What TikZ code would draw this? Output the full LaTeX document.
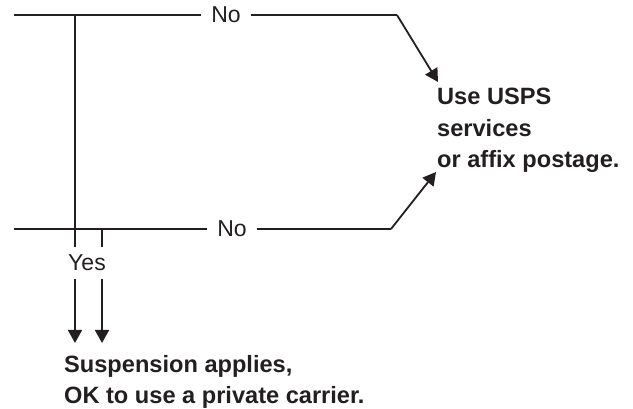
\documentclass[tikz,border=0pt]{standalone}
\usepackage{fontspec}
\setmainfont{Liberation Sans}
\usetikzlibrary{arrows.meta}
\definecolor{ink}{RGB}{35,31,32}
\tikzset{
  wire/.style={draw=ink, line width=1.8pt},
  arr/.style={wire, -{Triangle[width=14pt,length=13pt]}},
  lbl/.style={font=\fontsize{23}{28}\selectfont, text=ink, inner xsep=10pt, inner ysep=0pt},
  res/.style={font=\bfseries\fontsize{23.6}{31.5}\selectfont, text=ink, align=left, inner sep=0pt, anchor=north west}
}
\begin{document}
\begin{tikzpicture}[x=1pt,y=-1pt]
\useasboundingbox (0,0) rectangle (633,409);
% result nodes
\node[res] (use) at (437,88) {Use USPS\\services\\or affix postage.};
\node[res] (sus) at (64,355) {Suspension applies,\\OK to use a private carrier.};
% labels
\node[lbl] (noA) at (226,15) {No};
\node[lbl] (noB) at (232,229) {No};
\node[lbl, inner xsep=0pt, minimum height=31pt] (yes) at (87,263) {Yes};
% coordinates
\coordinate (tl) at (14,15);
\coordinate (tr) at (397,15);
\coordinate (tipA) at (438,82);
\coordinate (bl) at (14,229);
\coordinate (br) at (391,229);
\coordinate (tipB) at (436,172);
\coordinate (jA) at (75,15);
\coordinate (jB) at (102,229);
\coordinate (endA) at (75,343);
\coordinate (endB) at (102,343);
% top branch
\draw[wire] (tl) -- (noA.west);
\draw[wire] (noA.east) -- (tr);
\draw[arr] (tr) -- (tipA);
% bottom branch
\draw[wire] (bl) -- (noB.west);
\draw[wire] (noB.east) -- (br);
\draw[arr] (br) -- (tipB);
% yes branches
\draw[wire] (jA) -- (jA |- yes.north);
\draw[wire] (jB) -- (jB |- yes.north);
\draw[arr] (jA |- yes.south) -- (endA);
\draw[arr] (jB |- yes.south) -- (endB);
\end{tikzpicture}
\end{document}
